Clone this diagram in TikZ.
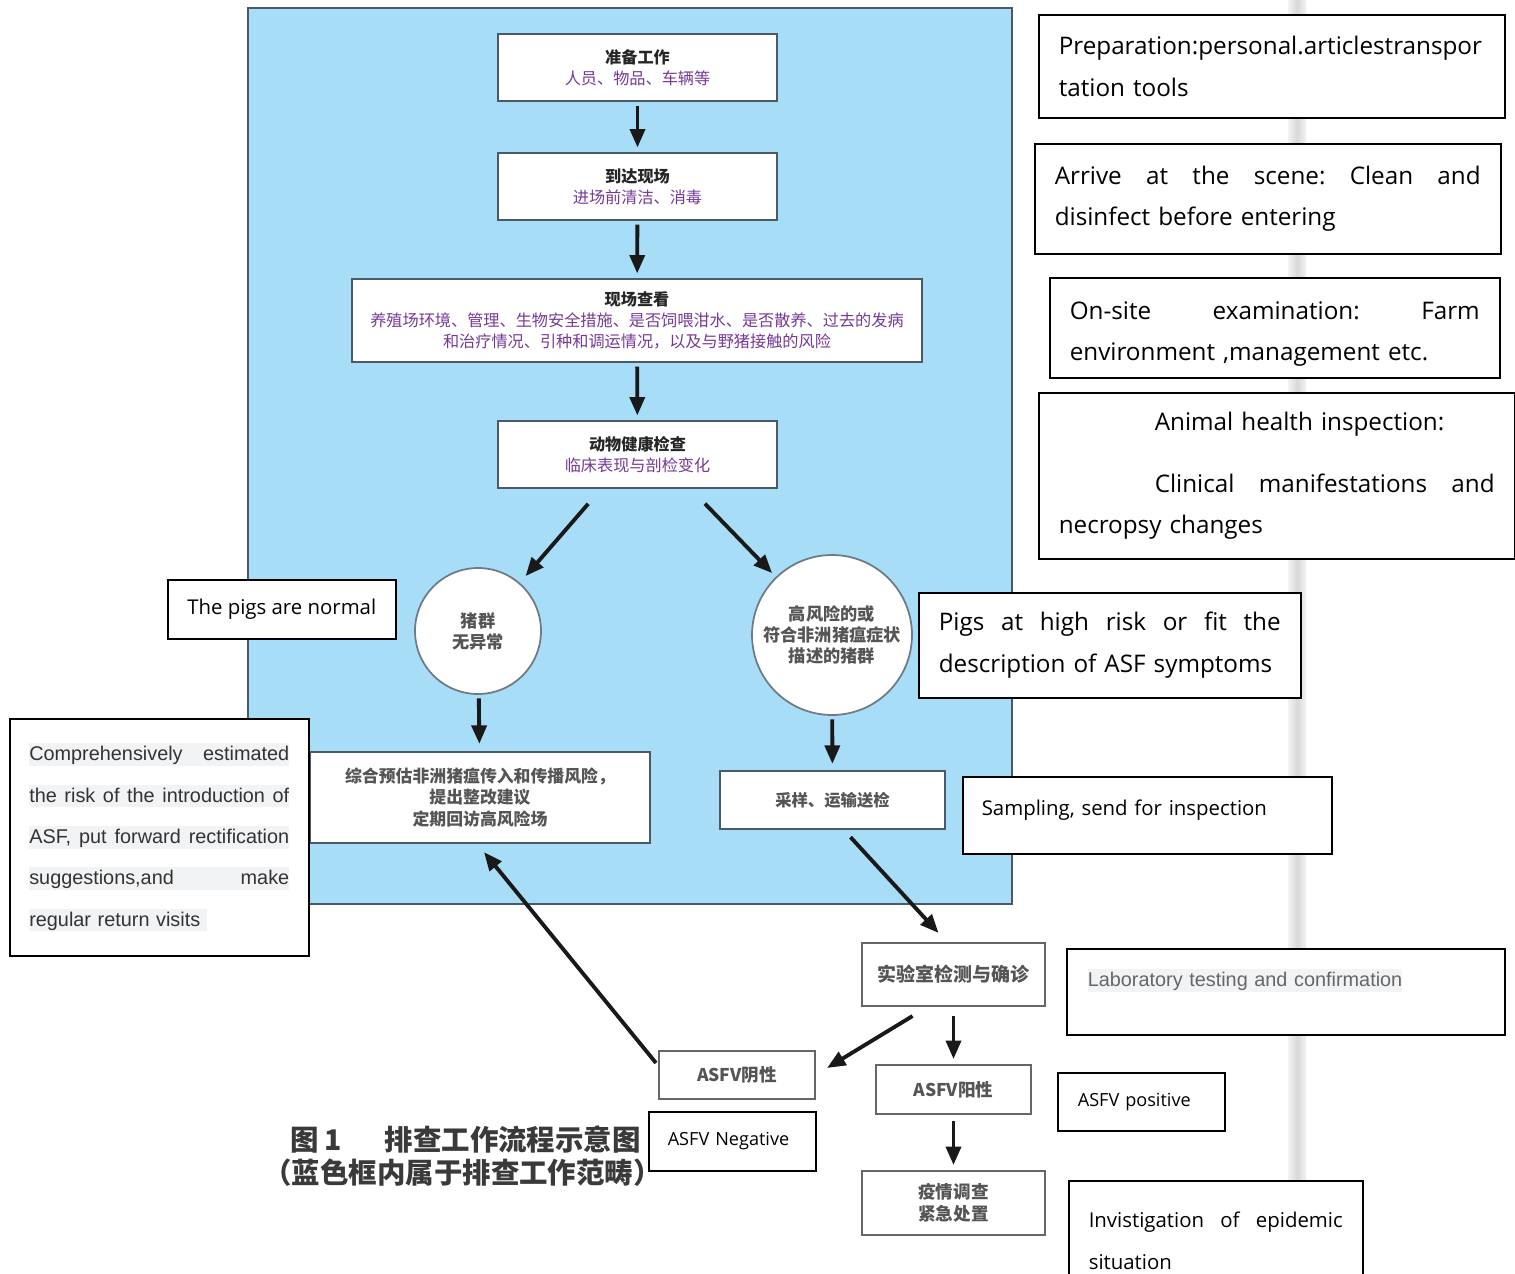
\documentclass[tikz,border=0pt]{standalone}
\usepackage{fontspec}
\newfontfamily\cjk{Noto Sans CJK SC}
\newfontfamily\osans{Open Sans}
\newfontfamily\arialf{Liberation Sans}
\usetikzlibrary{arrows.meta}
\definecolor{skyfill}{HTML}{A8DDF7}
\definecolor{slate}{HTML}{4A5A68}
\definecolor{plum}{HTML}{763A96}
\definecolor{inkgray}{HTML}{555555}
\definecolor{capgray}{HTML}{3A3A3A}
\definecolor{hlgray}{HTML}{F2F3F5}
\newcommand{\hlrow}[1]{{\setlength{\fboxsep}{0pt}\colorbox{hlgray}{\rule[-0.1cm]{0pt}{0.45cm}#1}}}

\begin{document}
\begin{tikzpicture}[x=0.02cm, y=-0.02cm,
	stepbox/.style={shape=rectangle, draw=slate, line width=1.3pt, fill=white, inner sep=0pt, align=center, text=black!85, font=\cjk\fontsize{9.2pt}{12pt}\selectfont},
	labbox/.style={shape=rectangle, draw=gray!80!black, line width=1.2pt, fill=white, inner sep=0pt, align=center, text=inkgray, font=\cjk\bfseries\fontsize{10pt}{12.5pt}\selectfont},
	ring/.style={shape=circle, draw=slate!80, line width=1pt, fill=white, inner sep=0pt, align=center, text=inkgray, font=\cjk\bfseries\fontsize{9.8pt}{12pt}\selectfont},
	note/.style={shape=rectangle, draw=black, line width=0.9pt, fill=white, anchor=north west, inner xsep=0.4cm, inner ysep=0pt, align=left, font=\osans\fontsize{13.8pt}{23.8pt}\selectfont},
	smallnote/.style={note, font=\osans\fontsize{11.6pt}{23.8pt}\selectfont},
	arr/.style={line width=2.2pt, draw=black!90, -{Triangle[length=10.5pt,width=8.5pt]}, shorten <=2pt, shorten >=2.5pt}]
	\useasboundingbox [fill=white] (0,0) rectangle (1515,1274);
	% blue frame and page fold
	\draw [fill=skyfill, draw=slate, line width=1.6pt] (248,8) rectangle (1012,904);
	\shade [left color=gray!10, right color=gray!10, middle color=gray!30] (1288,0) rectangle (1306,1274);
	% flow inside the frame
	\node (prep) at (637.5,67.5) [stepbox, minimum width=5.58cm, minimum height=1.34cm] {{\bfseries 准备工作}\\{\color{plum}人员、物品、车辆等}};
	\node (arrv) at (637.5,186.5) [stepbox, minimum width=5.58cm, minimum height=1.34cm] {{\bfseries 到达现场}\\{\color{plum}进场前清洁、消毒}};
	\node (site) at (637,320.5) [stepbox, minimum width=11.4cm, minimum height=1.66cm] {{\bfseries 现场查看}\\{\color{plum}养殖场环境、管理、生物安全措施、是否饲喂泔水、是否散养、过去的发病}\\{\color{plum}和治疗情况、引种和调运情况，以及与野猪接触的风险}};
	\node (hlth) at (637.5,454.5) [stepbox, minimum width=5.58cm, minimum height=1.34cm] {{\bfseries 动物健康检查}\\{\color{plum}临床表现与剖检变化}};
	\node (norm) at (478,631) [ring, minimum size=2.52cm] {猪群\\无异常};
	\node (risk) at (832,635) [ring, minimum size=3.2cm] {高风险的或\\符合非洲猪瘟症状\\描述的猪群};
	\node (eval) at (480,797.5) [stepbox, text=inkgray, font=\cjk\bfseries\fontsize{9.6pt}{12.2pt}\selectfont, minimum width=6.8cm, minimum height=1.82cm] {综合预估非洲猪瘟传入和传播风险，\\提出整改建议\\定期回访高风险场};
	\node (samp) at (832.5,800) [stepbox, text=inkgray, font=\cjk\bfseries\fontsize{9.3pt}{12pt}\selectfont, minimum width=4.5cm, minimum height=1.16cm] {采样、运输送检};
	% flow outside the frame
	\node (lab) at (953.5,974.5) [labbox, font=\cjk\bfseries\fontsize{10.8pt}{13pt}\selectfont, minimum width=3.66cm, minimum height=1.26cm] {实验室检测与确诊};
	\node (neg) at (737,1075) [labbox, minimum width=3.12cm, minimum height=0.96cm] {ASFV阴性};
	\node (pos) at (953.5,1089.5) [labbox, minimum width=3.1cm, minimum height=0.98cm] {ASFV阳性};
	\node (inv) at (953.5,1203) [labbox, minimum width=3.66cm, minimum height=1.28cm] {疫情调查\\紧急处置};
	% arrows
	\draw [arr] (prep) -- (arrv);
	\draw [arr] (arrv) -- (site);
	\draw [arr] (site) -- (hlth);
	\draw [arr, shorten >=5pt] ([shift={(-47,12)}]hlth.south) -- (norm);
	\draw [arr, shorten >=3pt] ([shift={(65,12)}]hlth.south) -- (risk);
	\draw [arr, shorten >=4pt] (norm) -- (eval);
	\draw [arr, shorten >=3.4pt] (risk) -- (samp);
	\draw [arr, shorten <=0pt, shorten >=0pt] ([shift={(18,7)}]samp.south) -- ([shift={(-15,-9)}]lab.north);
	\draw [arr, shorten <=0pt, shorten >=0pt] ([shift={(-41,9)}]lab.south) -- ([shift={(11,-7)}]neg.east);
	\draw [arr, shorten <=5pt, shorten >=2.8pt] (lab) -- (pos);
	\draw [arr, shorten <=3.4pt, shorten >=2.8pt] (pos) -- (inv);
	\draw [arr, shorten <=0pt, shorten >=0pt] ([shift={(-2,13)}]neg.north west) -- ([shift={(4,8)}]eval.south);
	% caption
	\node (capA) at (290,1139) [anchor=west, inner sep=0pt, text=capgray, font=\cjk\bfseries\fontsize{16.2pt}{19pt}\selectfont] {图\hspace{0.12cm}1\hspace{0.85cm}排查工作流程示意图};
	\node (capB) at (263,1173) [anchor=west, inner sep=0pt, text=capgray, font=\cjk\bfseries\fontsize{16.2pt}{19pt}\selectfont] {（蓝色框内属于排查工作范畴）};
	% english notes
	\node (nPrep) at (1038,14) [note, minimum width=9.32cm, minimum height=2.06cm, text width=8.52cm] {Preparation:personal.articlestranspor\\tation tools};
	\node (nArrv) at (1034,143) [note, minimum width=9.32cm, minimum height=2.2cm, text width=8.52cm] {Arrive\hfill at\hfill the\hfill scene:\hfill Clean\hfill and\\disinfect before entering};
	\node (nSite) at (1049,277) [note, text depth=0.7cm, minimum width=9.0cm, minimum height=2.0cm, text width=8.2cm] {On-site\hfill examination:\hfill Farm\\environment ,management etc.};
	\node (nHlth) at (1038,392) [note, minimum width=9.52cm, minimum height=3.32cm, text width=8.72cm] {\hspace*{1.92cm}Animal health inspection:\\[0.4cm]\hspace*{1.92cm}Clinical\hfill manifestations\hfill and\\necropsy changes};
	\node (nNorm) at (167,579) [smallnote, align=center, inner xsep=0pt, text depth=0.12cm, minimum width=4.56cm, minimum height=1.18cm] {The pigs are normal};
	\node (nRisk) at (918,592) [note, minimum width=7.64cm, minimum height=2.1cm, text width=6.84cm] {Pigs\hfill at\hfill high\hfill risk\hfill or\hfill fit\hfill the\\description of ASF symptoms};
	\node (nEval) at (9,718) [note, inner xsep=0.39cm, text=black!80, font=\arialf\fontsize{11.3pt}{23.6pt}\selectfont, minimum width=5.98cm, minimum height=4.74cm, text width=5.2cm] {\hlrow{\hbox to 5.2cm{Comprehensively\hfill estimated}}\\\hlrow{\hbox to 5.2cm{the\hfill risk\hfill of\hfill the\hfill introduction\hfill of}}\\\hlrow{\hbox to 5.2cm{ASF,\hfill put\hfill forward\hfill rectification}}\\\hlrow{\hbox to 5.2cm{suggestions,and\hfill make}}\\\hlrow{regular return visits\ }};
	\node (nSamp) at (962,776) [smallnote, inner xsep=0.38cm, text depth=0.3cm, minimum width=7.38cm, minimum height=1.54cm, text width=6.62cm] {Sampling, send for inspection};
	\node (nLab) at (1066,948) [note, inner xsep=0.42cm, text=black!60, font=\arialf\fontsize{11.3pt}{23.6pt}\selectfont, text depth=0.55cm, minimum width=8.76cm, minimum height=1.72cm, text width=7.92cm] {\hlrow{Laboratory testing and confirmation}};
	\node (nPos) at (1057,1072) [note, font=\osans\fontsize{10.3pt}{14pt}\selectfont, minimum width=3.34cm, minimum height=1.16cm, text width=2.54cm] {ASFV positive};
	\node (nNeg) at (648,1111) [note, inner xsep=0.38cm, font=\osans\fontsize{10.3pt}{14pt}\selectfont, minimum width=3.34cm, minimum height=1.18cm, text width=2.58cm] {ASFV Negative};
	\node (nInv) at (1068,1180) [smallnote, minimum width=5.88cm, minimum height=2.4cm, text width=5.08cm] {Invistigation\hfill of\hfill epidemic\\situation\\[0.2cm]};
\end{tikzpicture}
\end{document}
